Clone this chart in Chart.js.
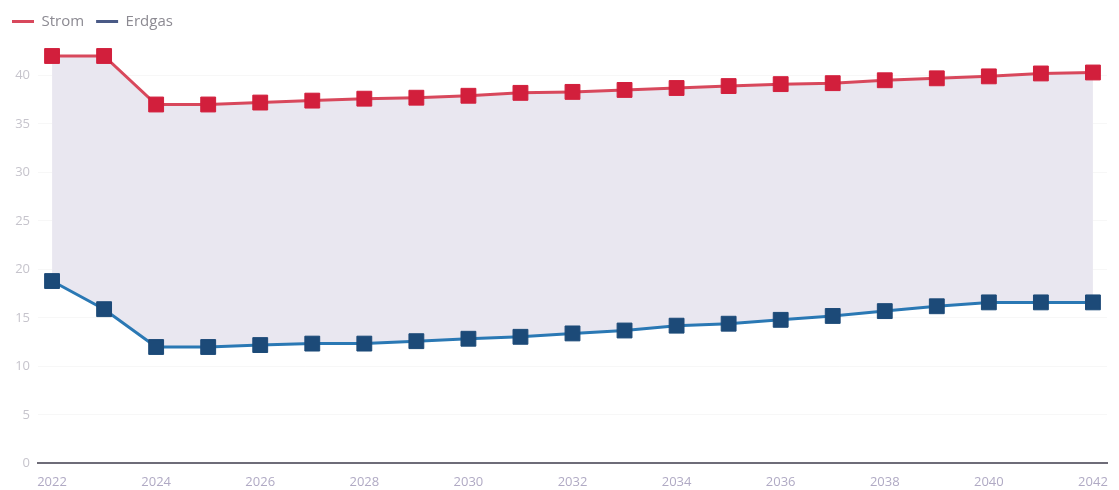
<!DOCTYPE html>
<html>
<head>
    <title>Strom und Erdgas</title>
    <script src="https://cdn.jsdelivr.net/npm/chart.js"></script>
    <style>
        body { margin: 0; background: #fff; }
        .chart-container { width: 1119px; height: 490px; }
    </style>
</head>
<body>
    <div class="chart-container"><canvas id="priceChart"></canvas></div>

    <script type="text/javascript">
        var years = [2022, 2023, 2024, 2025, 2026, 2027, 2028, 2029, 2030, 2031, 2032,
                     2033, 2034, 2035, 2036, 2037, 2038, 2039, 2040, 2041, 2042];
        var strom = [42, 42, 37, 37, 37.2, 37.4, 37.6, 37.7, 37.9, 38.2, 38.3,
                     38.5, 38.7, 38.9, 39.1, 39.2, 39.5, 39.7, 39.9, 40.2, 40.3];
        var erdgas = [18.8, 15.9, 12, 12, 12.2, 12.35, 12.35, 12.6, 12.85, 13.05, 13.4,
                      13.7, 14.2, 14.4, 14.8, 15.2, 15.7, 16.2, 16.6, 16.6, 16.6];
        var xTicks = [2022, 2024, 2026, 2028, 2030, 2032, 2034, 2036, 2038, 2040, 2042];
        var yTicks = [0, 5, 10, 15, 20, 25, 30, 35, 40];

        function points(values) {
            return years.map(function (y, i) { return { x: y, y: values[i] }; });
        }

        // extra space below the legend
        var legendGap = {
            id: 'legendGap',
            beforeInit: function (chart) {
                var fit = chart.legend.fit;
                chart.legend.fit = function () {
                    fit.bind(chart.legend)();
                    this.height += 17;
                };
            }
        };

        var ctx = document.getElementById('priceChart').getContext('2d');
        var chart = new Chart(ctx, {
            type: 'line',
            data: {
                datasets: [{
                    label: 'Strom',
                    data: points(strom),
                    borderColor: '#d8485c',
                    backgroundColor: '#e9e7f0',
                    pointBackgroundColor: '#d21f3c',
                    pointBorderColor: '#d21f3c',
                    pointStyle: 'rect',
                    pointRadius: 10.5,
                    pointBorderWidth: 1,
                    borderWidth: 3,
                    fill: '+1',
                    clip: false
                }, {
                    label: 'Erdgas',
                    data: points(erdgas),
                    borderColor: '#2a78b4',
                    backgroundColor: '#1c4a78',
                    pointBackgroundColor: '#1c4a78',
                    pointBorderColor: '#1c4a78',
                    pointStyle: 'rect',
                    pointRadius: 10.5,
                    pointBorderWidth: 1,
                    borderWidth: 3,
                    fill: false,
                    clip: false
                }]
            },
            plugins: [legendGap],
            options: {
                responsive: true,
                maintainAspectRatio: false,
                animation: false,
                layout: { padding: { top: 2, right: 12, bottom: -3, left: 0 } },
                plugins: {
                    filler: { drawTime: 'beforeDatasetsDraw' },
                    legend: {
                        position: 'top',
                        align: 'start',
                        labels: {
                            boxWidth: 22,
                            boxHeight: 3,
                            color: '#8c8a92',
                            font: { family: 'Open Sans', size: 15 },
                            padding: 12,
                            generateLabels: function (c) {
                                return c.data.datasets.map(function (ds, i) {
                                    return {
                                        text: ds.label,
                                        fillStyle: i === 0 ? '#d8485c' : '#4a5a86',
                                        strokeStyle: i === 0 ? '#d8485c' : '#4a5a86',
                                        lineWidth: 0,
                                        fontColor: '#8c8a92',
                                        datasetIndex: i
                                    };
                                });
                            }
                        }
                    },
                    tooltip: { enabled: false }
                },
                scales: {
                    x: {
                        type: 'linear',
                        min: 2021.73,
                        max: 2042.27,
                        afterBuildTicks: function (scale) {
                            scale.ticks = xTicks.map(function (v) { return { value: v }; });
                        },
                        grid: { display: false },
                        border: { display: true, color: '#6e6c78', width: 2 },
                        ticks: {
                            color: '#b0aac4',
                            font: { family: 'Open Sans', size: 13 },
                            padding: 3,
                            maxRotation: 0,
                            autoSkip: false,
                            callback: function (v) { return String(v); }
                        }
                    },
                    y: {
                        min: 0,
                        max: 42,
                        afterBuildTicks: function (scale) {
                            scale.ticks = yTicks.map(function (v) { return { value: v }; });
                        },
                        afterFit: function (scale) { scale.width = 38; },
                        grid: { color: 'rgba(0,0,0,0.03)', drawTicks: false },
                        border: { display: false },
                        ticks: {
                            color: '#c6c4cc',
                            font: { family: 'Open Sans', size: 13 },
                            padding: 8
                        }
                    }
                }
            }
        });
    </script>
</body>
</html>
